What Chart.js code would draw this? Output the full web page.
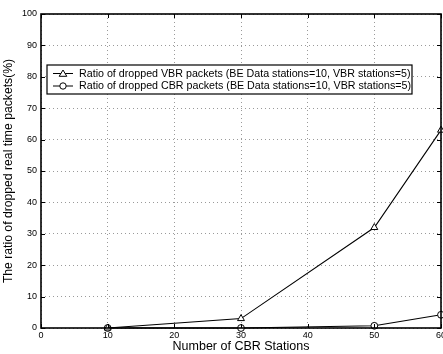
<!DOCTYPE html>
<html>
<head>
<meta charset="utf-8">
<script src="https://cdn.jsdelivr.net/npm/chart.js@4"></script>
<style>
  html, body { margin: 0; padding: 0; background: #fff; overflow: hidden; }
  #wrap { width: 452px; height: 354px; position: relative; }
</style>
</head>
<body>
<div id="wrap"><canvas id="chart"></canvas></div>
<script>
const stations = [10, 30, 50, 60];
const vbrDropped = [0, 3, 32, 63];
const cbrDropped = [0, 0, 0.7, 4.2];
const xTicks = [0, 10, 20, 30, 40, 50, 60];
const yTicks = [0, 10, 20, 30, 40, 50, 60, 70, 80, 90, 100];
const legendLabels = [
    'Ratio of dropped VBR packets (BE Data stations=10, VBR stations=5)',
    'Ratio of dropped CBR packets (BE Data stations=10, VBR stations=5)'
];

const FONT = '"Liberation Sans", Arial, Helvetica, sans-serif';

function drawMarker(ctx, style, x, y) {
    ctx.beginPath();
    if (style === 'triangle') {
        ctx.moveTo(x, y - 3.5);
        ctx.lineTo(x + 3.8, y + 2.8);
        ctx.lineTo(x - 3.8, y + 2.8);
        ctx.closePath();
    } else {
        ctx.arc(x, y, 3.2, 0, Math.PI * 2);
    }
    ctx.fillStyle = '#fff';
    ctx.fill();
    ctx.stroke();
}

// box, inward ticks and the boxed legend
const framePlugin = {
    id: 'frame',
    afterDatasetsDraw(chart) {
        const { ctx, chartArea: a, scales } = chart;
        ctx.save();
        ctx.strokeStyle = '#000';
        ctx.lineWidth = 1;
        xTicks.forEach(v => {
            const x = Math.round(scales.x.getPixelForValue(v)) + 0.5;
            ctx.beginPath();
            ctx.moveTo(x, a.bottom); ctx.lineTo(x, a.bottom - 4);
            ctx.moveTo(x, a.top); ctx.lineTo(x, a.top + 4);
            ctx.stroke();
        });
        yTicks.forEach(v => {
            const y = Math.round(scales.y.getPixelForValue(v)) + 0.5;
            ctx.beginPath();
            ctx.moveTo(a.left, y); ctx.lineTo(a.left + 4, y);
            ctx.moveTo(a.right, y); ctx.lineTo(a.right - 4, y);
            ctx.stroke();
        });
        ctx.lineWidth = 1.6;
        ctx.strokeRect(a.left, a.top, a.right - a.left, a.bottom - a.top);

        // legend
        const bx = 47, by = 65, bw = 365, bh = 29;
        ctx.fillStyle = '#fff';
        ctx.fillRect(bx, by, bw, bh);
        ctx.lineWidth = 1.2;
        ctx.strokeRect(bx, by, bw, bh);
        ctx.font = '10.7px ' + FONT;
        ctx.textBaseline = 'middle';
        ctx.textAlign = 'left';
        const markers = ['triangle', 'circle'];
        legendLabels.forEach((label, i) => {
            const y = by + 8.5 + i * 12.5;
            ctx.lineWidth = 1;
            ctx.strokeStyle = '#000';
            ctx.beginPath();
            ctx.moveTo(bx + 6, y); ctx.lineTo(bx + 26, y);
            ctx.stroke();
            drawMarker(ctx, markers[i], bx + 16, y);
            ctx.fillStyle = '#000';
            ctx.fillText(label, bx + 32, y + 0.5);
        });
        ctx.restore();
    }
};

function markerPoint(style) {
    return {
        borderColor: '#000',
        backgroundColor: '#fff',
        borderWidth: 1.1,
        pointStyle: style,
        pointRadius: style === 'triangle' ? 4 : 3.4,
        pointBorderWidth: 1,
        pointBackgroundColor: '#fff',
        pointBorderColor: '#000',
        tension: 0,
        fill: false
    };
}

new Chart(document.getElementById('chart'), {
    type: 'line',
    data: {
        datasets: [
            Object.assign({
                label: legendLabels[0],
                data: stations.map((x, i) => ({ x, y: vbrDropped[i] }))
            }, markerPoint('triangle')),
            Object.assign({
                label: legendLabels[1],
                data: stations.map((x, i) => ({ x, y: cbrDropped[i] }))
            }, markerPoint('circle'))
        ]
    },
    options: {
        responsive: true,
        maintainAspectRatio: false,
        animation: false,
        clip: false,
        layout: { padding: { top: 14, right: 11, left: 1, bottom: 0 } },
        plugins: { legend: { display: false }, tooltip: { enabled: false } },
        scales: {
            x: {
                type: 'linear',
                min: 0, max: 60,
                afterBuildTicks: s => { s.ticks = xTicks.map(v => ({ value: v })); },
                afterFit: s => { s.height = 26; },
                grid: { color: '#9a9a9a', lineWidth: 1, drawTicks: false },
                border: { display: false, dash: [1, 3] },
                ticks: { font: { family: FONT, size: 9 }, color: '#000', padding: 2, maxRotation: 0 },
                title: {
                    display: true,
                    text: 'Number of CBR Stations',
                    font: { family: FONT, size: 12.5 },
                    color: '#000',
                    padding: { top: 0, bottom: 0 }
                }
            },
            y: {
                min: 0, max: 100,
                afterBuildTicks: s => { s.ticks = yTicks.map(v => ({ value: v })); },
                afterFit: s => { s.width = 40; },
                grid: { color: '#9a9a9a', lineWidth: 1, drawTicks: false },
                border: { display: false, dash: [1, 3] },
                ticks: { font: { family: FONT, size: 9 }, color: '#000', padding: 4 },
                title: {
                    display: true,
                    text: 'The ratio of dropped real time packets(%)',
                    font: { family: FONT, size: 12.2 },
                    color: '#000',
                    padding: { top: 0, bottom: 0 }
                }
            }
        }
    },
    plugins: [framePlugin]
});
</script>
</body>
</html>
